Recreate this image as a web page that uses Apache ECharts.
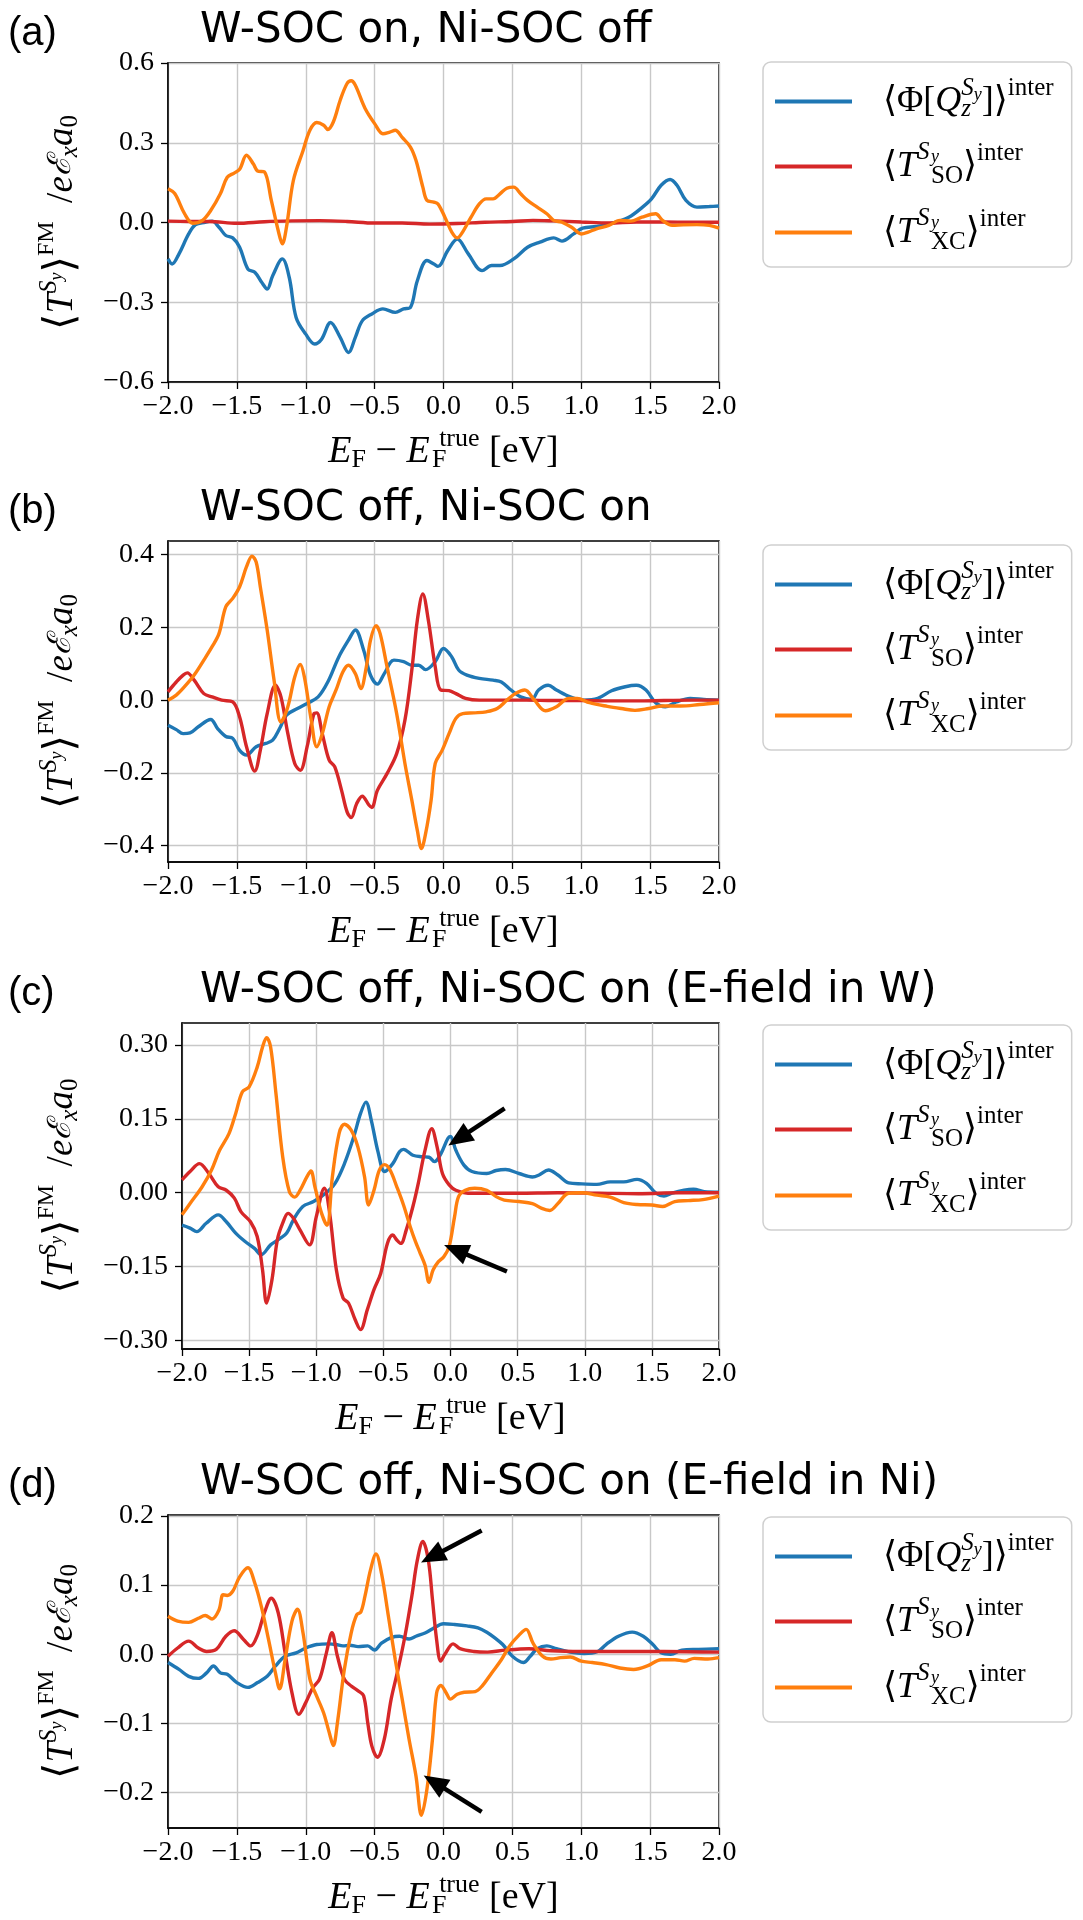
<!DOCTYPE html>
<html><head><meta charset="utf-8">
<script src="https://cdn.jsdelivr.net/npm/echarts@6/dist/echarts.min.js"></script>
<style>html,body{margin:0;padding:0;background:#fff}#c{width:1083px;height:1920px}</style>
</head><body><div id="c"></div>
<script>
// ---------------- DATA ----------------
const xTicks = [-2, -1.5, -1, -0.5, 0, 0.5, 1, 1.5, 2];
const yTicksA = [-0.6, -0.3, 0, 0.3, 0.6];
const yTicksB = [-0.4, -0.2, 0, 0.2, 0.4];
const yTicksC = [-0.30, -0.15, 0, 0.15, 0.30];
const yTicksD = [-0.2, -0.1, 0, 0.1, 0.2];
const yRangeA = [-0.6, 0.6];
const yRangeB = [-0.445, 0.4377];
const yRangeC = [-0.3174, 0.3446];
const yRangeD = [-0.2514, 0.2014];
const titles = ['W-SOC on, Ni-SOC off', 'W-SOC off, Ni-SOC on', 'W-SOC off, Ni-SOC on (E-field in W)', 'W-SOC off, Ni-SOC on (E-field in Ni)'];
const panelLabels = ['(a)', '(b)', '(c)', '(d)'];

// panel (a)
const aPhi = [[-2.0,-0.137],[-1.97,-0.156],[-1.92,-0.118],[-1.85,-0.043],[-1.8,-0.008],[-1.73,0.001],[-1.68,0.005],[-1.63,-0.018],[-1.58,-0.049],[-1.53,-0.058],[-1.48,-0.093],[-1.42,-0.175],[-1.37,-0.187],[-1.32,-0.225],[-1.28,-0.25],[-1.24,-0.2],[-1.17,-0.137],[-1.12,-0.206],[-1.07,-0.357],[-1.0,-0.42],[-0.935,-0.457],[-0.885,-0.439],[-0.82,-0.376],[-0.75,-0.432],[-0.69,-0.489],[-0.64,-0.432],[-0.59,-0.37],[-0.52,-0.344],[-0.44,-0.325],[-0.35,-0.338],[-0.29,-0.325],[-0.24,-0.319],[-0.19,-0.219],[-0.12,-0.143],[-0.07,-0.156],[-0.04,-0.165],[0.03,-0.106],[0.1,-0.062],[0.18,-0.118],[0.28,-0.181],[0.35,-0.162],[0.41,-0.162],[0.51,-0.137],[0.61,-0.093],[0.7,-0.074],[0.8,-0.058],[0.86,-0.07],[0.945,-0.043],[1.01,-0.021],[1.11,-0.015],[1.21,-0.005],[1.345,0.02],[1.445,0.058],[1.51,0.089],[1.58,0.14],[1.645,0.162],[1.695,0.14],[1.76,0.083],[1.84,0.058],[1.93,0.06],[2.0,0.062]];
const aSO = [[-2.0,0.005],[-1.85,0.004],[-1.7,0.004],[-1.5,-0.003],[-1.3,0.003],[-1.1,0.006],[-0.9,0.007],[-0.7,0.004],[-0.5,-0.002],[-0.3,-0.002],[-0.1,-0.006],[0.1,-0.004],[0.3,0.001],[0.5,0.004],[0.65,0.008],[0.8,0.006],[1.0,0.002],[1.2,-0.002],[1.4,0.002],[1.6,0.002],[1.8,0.001],[2.0,0.001]];
const aXC = [[-2.0,0.127],[-1.95,0.108],[-1.88,0.033],[-1.82,-0.003],[-1.75,0.008],[-1.69,0.045],[-1.62,0.108],[-1.57,0.17],[-1.52,0.186],[-1.48,0.2],[-1.43,0.253],[-1.38,0.22],[-1.35,0.194],[-1.3,0.19],[-1.25,0.083],[-1.2,-0.03],[-1.17,-0.08],[-1.14,-0.018],[-1.09,0.158],[-1.02,0.27],[-0.97,0.347],[-0.92,0.376],[-0.87,0.366],[-0.84,0.35],[-0.8,0.378],[-0.75,0.46],[-0.7,0.523],[-0.67,0.533],[-0.64,0.516],[-0.57,0.43],[-0.5,0.372],[-0.44,0.334],[-0.39,0.34],[-0.35,0.347],[-0.3,0.32],[-0.24,0.284],[-0.2,0.234],[-0.15,0.133],[-0.12,0.083],[-0.07,0.077],[-0.04,0.07],[0.01,0.02],[0.06,-0.036],[0.1,-0.058],[0.13,-0.043],[0.2,0.02],[0.26,0.07],[0.31,0.089],[0.36,0.089],[0.41,0.108],[0.46,0.129],[0.51,0.133],[0.56,0.108],[0.61,0.083],[0.68,0.058],[0.75,0.033],[0.8,0.008],[0.86,0.001],[0.93,-0.018],[1.0,-0.043],[1.05,-0.036],[1.11,-0.024],[1.2,-0.011],[1.28,0.008],[1.36,0.005],[1.44,0.02],[1.54,0.033],[1.59,0.008],[1.66,-0.011],[1.74,-0.009],[1.84,-0.008],[1.93,-0.011],[2.0,-0.021]];

// panel (b)
const bPhi = [[-2.0,-0.069],[-1.94,-0.081],[-1.89,-0.092],[-1.84,-0.09],[-1.78,-0.073],[-1.69,-0.053],[-1.64,-0.078],[-1.58,-0.1],[-1.53,-0.105],[-1.48,-0.138],[-1.43,-0.151],[-1.36,-0.128],[-1.29,-0.119],[-1.24,-0.11],[-1.19,-0.078],[-1.14,-0.041],[-1.06,-0.023],[-0.99,-0.009],[-0.91,0.009],[-0.84,0.05],[-0.76,0.119],[-0.69,0.165],[-0.64,0.193],[-0.58,0.138],[-0.53,0.069],[-0.48,0.044],[-0.43,0.073],[-0.36,0.11],[-0.29,0.106],[-0.23,0.096],[-0.18,0.096],[-0.13,0.084],[-0.06,0.106],[0.0,0.142],[0.06,0.119],[0.11,0.083],[0.17,0.069],[0.26,0.06],[0.36,0.055],[0.42,0.05],[0.49,0.028],[0.56,0.009],[0.64,0.002],[0.69,0.028],[0.76,0.041],[0.82,0.028],[0.92,0.009],[1.02,0.0],[1.12,0.005],[1.22,0.026],[1.32,0.037],[1.4,0.041],[1.47,0.028],[1.54,-0.007],[1.61,-0.018],[1.69,-0.005],[1.79,0.005],[1.89,0.002],[2.0,0.0]];
const bSO = [[-2.0,0.023],[-1.94,0.05],[-1.89,0.069],[-1.86,0.075],[-1.81,0.055],[-1.74,0.018],[-1.68,0.009],[-1.61,0.0],[-1.53,-0.005],[-1.48,-0.046],[-1.43,-0.128],[-1.37,-0.195],[-1.33,-0.138],[-1.28,-0.037],[-1.22,0.041],[-1.18,0.009],[-1.13,-0.092],[-1.08,-0.174],[-1.04,-0.193],[-0.99,-0.128],[-0.94,-0.037],[-0.92,-0.035],[-0.88,-0.092],[-0.83,-0.165],[-0.79,-0.183],[-0.74,-0.248],[-0.7,-0.307],[-0.67,-0.323],[-0.63,-0.284],[-0.59,-0.264],[-0.54,-0.289],[-0.52,-0.295],[-0.48,-0.248],[-0.41,-0.202],[-0.34,-0.147],[-0.28,-0.055],[-0.23,0.083],[-0.19,0.22],[-0.15,0.292],[-0.11,0.22],[-0.06,0.092],[-0.02,0.028],[0.04,0.026],[0.09,0.018],[0.16,0.005],[0.26,0.0],[0.4,0.0],[0.6,0.0],[0.8,-0.001],[1.0,-0.001],[1.2,-0.002],[1.4,-0.002],[1.6,-0.001],[1.8,0.0],[2.0,0.0]];
const bXC = [[-2.0,0.0],[-1.94,0.014],[-1.88,0.037],[-1.81,0.069],[-1.74,0.11],[-1.68,0.147],[-1.63,0.183],[-1.58,0.257],[-1.53,0.28],[-1.48,0.312],[-1.43,0.367],[-1.39,0.396],[-1.36,0.38],[-1.33,0.312],[-1.28,0.193],[-1.23,0.055],[-1.18,-0.06],[-1.13,-0.018],[-1.08,0.064],[-1.04,0.098],[-1.01,0.064],[-0.96,-0.055],[-0.92,-0.128],[-0.88,-0.092],[-0.83,-0.018],[-0.78,0.028],[-0.73,0.078],[-0.69,0.096],[-0.64,0.073],[-0.6,0.032],[-0.56,0.092],[-0.53,0.165],[-0.49,0.205],[-0.46,0.183],[-0.41,0.092],[-0.34,-0.037],[-0.28,-0.174],[-0.23,-0.275],[-0.19,-0.358],[-0.16,-0.408],[-0.13,-0.367],[-0.09,-0.275],[-0.06,-0.174],[-0.01,-0.138],[0.04,-0.092],[0.09,-0.05],[0.14,-0.037],[0.22,-0.035],[0.31,-0.032],[0.39,-0.023],[0.46,0.0],[0.52,0.018],[0.59,0.028],[0.66,0.0],[0.74,-0.029],[0.82,-0.018],[0.91,0.005],[0.97,0.005],[1.06,-0.007],[1.19,-0.017],[1.29,-0.023],[1.39,-0.028],[1.49,-0.023],[1.59,-0.016],[1.72,-0.016],[1.86,-0.012],[2.0,-0.007]];

// panel (c)
const cPhi = [[-2.0,-0.066],[-1.94,-0.072],[-1.89,-0.079],[-1.82,-0.062],[-1.73,-0.045],[-1.67,-0.059],[-1.6,-0.082],[-1.53,-0.099],[-1.46,-0.113],[-1.41,-0.126],[-1.34,-0.106],[-1.27,-0.093],[-1.22,-0.082],[-1.17,-0.055],[-1.1,-0.028],[-1.02,-0.018],[-0.93,-0.001],[-0.86,0.019],[-0.79,0.059],[-0.72,0.114],[-0.67,0.161],[-0.63,0.184],[-0.59,0.147],[-0.54,0.083],[-0.49,0.043],[-0.43,0.059],[-0.38,0.083],[-0.35,0.088],[-0.28,0.076],[-0.21,0.073],[-0.16,0.072],[-0.12,0.063],[-0.07,0.08],[-0.02,0.11],[0.0,0.114],[0.04,0.086],[0.1,0.056],[0.16,0.043],[0.27,0.039],[0.34,0.045],[0.41,0.047],[0.51,0.039],[0.61,0.032],[0.66,0.036],[0.73,0.046],[0.8,0.036],[0.88,0.02],[0.98,0.018],[1.09,0.017],[1.19,0.022],[1.29,0.022],[1.39,0.027],[1.46,0.019],[1.53,-0.001],[1.59,-0.007],[1.65,-0.001],[1.74,0.005],[1.81,0.007],[1.89,0.002],[2.0,0.001]];
const cSO = [[-2.0,0.026],[-1.94,0.043],[-1.87,0.059],[-1.8,0.039],[-1.73,0.012],[-1.67,0.005],[-1.61,-0.011],[-1.56,-0.039],[-1.49,-0.059],[-1.44,-0.089],[-1.4,-0.157],[-1.37,-0.224],[-1.33,-0.177],[-1.29,-0.096],[-1.25,-0.062],[-1.21,-0.042],[-1.17,-0.052],[-1.12,-0.076],[-1.05,-0.106],[-1.0,-0.049],[-0.94,0.009],[-0.9,-0.042],[-0.85,-0.157],[-0.8,-0.214],[-0.76,-0.224],[-0.71,-0.258],[-0.67,-0.278],[-0.62,-0.238],[-0.57,-0.197],[-0.52,-0.164],[-0.47,-0.103],[-0.43,-0.086],[-0.4,-0.096],[-0.37,-0.103],[-0.33,-0.076],[-0.28,-0.028],[-0.24,0.019],[-0.19,0.086],[-0.14,0.13],[-0.1,0.093],[-0.06,0.039],[-0.01,0.016],[0.04,0.005],[0.13,-0.001],[0.27,-0.001],[0.5,-0.001],[0.8,0.0],[1.1,-0.001],[1.4,-0.002],[1.7,0.0],[2.0,0.0]];
const cXC = [[-2.0,-0.045],[-1.94,-0.022],[-1.85,0.012],[-1.78,0.046],[-1.72,0.086],[-1.65,0.12],[-1.6,0.161],[-1.55,0.205],[-1.5,0.215],[-1.44,0.255],[-1.4,0.296],[-1.37,0.315],[-1.34,0.296],[-1.3,0.201],[-1.25,0.073],[-1.2,0.002],[-1.16,-0.009],[-1.12,0.005],[-1.07,0.032],[-1.04,0.044],[-1.01,0.012],[-0.96,-0.042],[-0.92,-0.066],[-0.88,0.032],[-0.83,0.12],[-0.79,0.139],[-0.74,0.127],[-0.69,0.093],[-0.64,0.032],[-0.61,-0.025],[-0.57,0.005],[-0.53,0.046],[-0.49,0.057],[-0.45,0.046],[-0.4,0.012],[-0.35,-0.025],[-0.3,-0.069],[-0.26,-0.1],[-0.23,-0.12],[-0.19,-0.147],[-0.16,-0.182],[-0.13,-0.157],[-0.09,-0.14],[-0.05,-0.13],[-0.01,-0.109],[0.03,-0.049],[0.06,-0.008],[0.11,0.005],[0.18,0.009],[0.27,0.005],[0.34,-0.008],[0.4,-0.015],[0.51,-0.018],[0.61,-0.022],[0.68,-0.032],[0.74,-0.036],[0.8,-0.022],[0.88,-0.001],[0.98,0.0],[1.09,-0.005],[1.19,-0.009],[1.29,-0.02],[1.39,-0.024],[1.5,-0.025],[1.58,-0.028],[1.67,-0.018],[1.77,-0.016],[1.88,-0.014],[2.0,-0.007]];

// panel (d)
const dPhi = [[-2.0,-0.012],[-1.92,-0.022],[-1.85,-0.032],[-1.78,-0.035],[-1.72,-0.027],[-1.67,-0.017],[-1.62,-0.027],[-1.57,-0.029],[-1.5,-0.041],[-1.42,-0.048],[-1.35,-0.041],[-1.28,-0.032],[-1.22,-0.017],[-1.15,-0.003],[-1.07,0.002],[-1.0,0.009],[-0.92,0.014],[-0.83,0.015],[-0.78,0.014],[-0.73,0.012],[-0.68,0.013],[-0.62,0.011],[-0.55,0.012],[-0.5,0.006],[-0.45,0.016],[-0.38,0.024],[-0.32,0.026],[-0.25,0.022],[-0.2,0.026],[-0.13,0.031],[-0.07,0.038],[0.0,0.044],[0.08,0.043],[0.17,0.041],[0.25,0.038],[0.32,0.031],[0.37,0.024],[0.43,0.014],[0.5,-0.003],[0.58,-0.012],[0.63,-0.003],[0.68,0.008],[0.75,0.012],[0.82,0.008],[0.92,0.003],[1.02,0.001],[1.12,0.004],[1.18,0.014],[1.27,0.026],[1.37,0.032],[1.45,0.026],[1.52,0.014],[1.58,0.002],[1.65,0.0],[1.73,0.006],[1.85,0.007],[2.0,0.008]];
const dSO = [[-2.0,-0.003],[-1.93,0.009],[-1.85,0.019],[-1.78,0.009],[-1.72,0.004],[-1.65,0.007],[-1.58,0.026],[-1.52,0.034],[-1.45,0.021],[-1.4,0.012],[-1.35,0.028],[-1.3,0.06],[-1.25,0.081],[-1.2,0.06],[-1.15,0.002],[-1.1,-0.056],[-1.05,-0.087],[-1.0,-0.07],[-0.95,-0.049],[-0.9,-0.036],[-0.85,0.002],[-0.81,0.031],[-0.77,-0.003],[-0.72,-0.036],[-0.67,-0.046],[-0.62,-0.053],[-0.58,-0.06],[-0.55,-0.099],[-0.52,-0.133],[-0.48,-0.149],[-0.43,-0.123],[-0.38,-0.065],[-0.33,-0.022],[-0.28,0.026],[-0.23,0.084],[-0.19,0.136],[-0.15,0.163],[-0.11,0.136],[-0.08,0.079],[-0.05,0.021],[-0.02,-0.01],[0.01,0.0],[0.07,0.015],[0.12,0.008],[0.22,0.004],[0.32,0.003],[0.45,0.006],[0.62,0.008],[0.78,0.005],[1.0,0.004],[1.3,0.004],[1.6,0.004],[2.0,0.003]];
const dXC = [[-2.0,0.055],[-1.93,0.048],[-1.85,0.046],[-1.78,0.052],[-1.73,0.056],[-1.68,0.051],[-1.63,0.064],[-1.6,0.086],[-1.57,0.085],[-1.53,0.091],[-1.48,0.112],[-1.42,0.125],[-1.37,0.103],[-1.32,0.067],[-1.27,0.021],[-1.22,-0.027],[-1.19,-0.05],[-1.15,-0.008],[-1.1,0.048],[-1.06,0.065],[-1.02,0.031],[-0.97,-0.036],[-0.92,-0.061],[-0.87,-0.085],[-0.83,-0.113],[-0.8,-0.132],[-0.77,-0.099],[-0.72,-0.022],[-0.67,0.031],[-0.63,0.057],[-0.6,0.061],[-0.57,0.084],[-0.53,0.122],[-0.49,0.145],[-0.45,0.117],[-0.4,0.055],[-0.35,-0.008],[-0.3,-0.065],[-0.25,-0.123],[-0.2,-0.176],[-0.16,-0.233],[-0.12,-0.195],[-0.08,-0.123],[-0.05,-0.056],[-0.02,-0.045],[0.02,-0.056],[0.05,-0.065],[0.1,-0.058],[0.15,-0.055],[0.23,-0.054],[0.28,-0.046],[0.35,-0.027],[0.42,-0.008],[0.48,0.012],[0.55,0.028],[0.6,0.036],[0.65,0.016],[0.72,-0.003],[0.78,-0.007],[0.85,-0.005],[0.92,-0.004],[1.0,-0.01],[1.08,-0.012],[1.18,-0.015],[1.28,-0.02],[1.38,-0.022],[1.48,-0.017],[1.58,-0.008],[1.68,-0.008],[1.75,-0.01],[1.82,-0.006],[1.92,-0.007],[2.0,-0.005]];

// annotation arrows [tail, head] in data coordinates
const arrowsC = [[[0.403, 0.171], [0.062, 0.110]], [[0.42, -0.160], [0.038, -0.116]]];
const arrowsD = [[[0.277, 0.179], [-0.083, 0.141]], [[0.277, -0.228], [-0.067, -0.185]]];

// ---------------- LAYOUT / STYLE ----------------
const grids = [
  {left: 168, top: 63, width: 551, height: 319},
  {left: 168, top: 541, width: 551, height: 321},
  {left: 182, top: 1023, width: 537, height: 326},
  {left: 168, top: 1515, width: 551, height: 314}
];
const legendTops = [62, 545, 1025, 1517];
const panels = [
  {phi: aPhi, so: aSO, xc: aXC, ticks: yTicksA, range: yRangeA, dec: 1, arrows: null},
  {phi: bPhi, so: bSO, xc: bXC, ticks: yTicksB, range: yRangeB, dec: 1, arrows: null},
  {phi: cPhi, so: cSO, xc: cXC, ticks: yTicksC, range: yRangeC, dec: 2, arrows: arrowsC},
  {phi: dPhi, so: dSO, xc: dXC, ticks: yTicksD, range: yRangeD, dec: 1, arrows: arrowsD}
];
const COLORS = {phi: '#1f77b4', so: '#d62728', xc: '#ff7f0e'};
const SERIF = 'Liberation Serif';

function fmt(v, d) {
  const s = Math.abs(v).toFixed(d);
  return (v < -1e-9 ? '\u2212' : '') + s;
}

const mathRich = {
  it: {fontFamily: SERIF, fontStyle: 'italic', fontSize: 37, color: '#000'},
  rm: {fontFamily: SERIF, fontSize: 37, color: '#000'},
  br: {fontFamily: 'DejaVu Serif', fontSize: 42, color: '#000'},
  sup: {fontFamily: SERIF, fontStyle: 'italic', fontSize: 25, padding: [0, 0, 26, 0], color: '#000'},
  ssub: {fontFamily: SERIF, fontStyle: 'italic', fontSize: 18, padding: [0, 0, 10, 0], color: '#000'},
  supr: {fontFamily: SERIF, fontSize: 24, padding: [0, 0, 30, 0], color: '#000'},
  scr: {fontFamily: 'DejaVu Serif', fontStyle: 'italic', fontSize: 32, color: '#000'},
  sub: {fontFamily: SERIF, fontStyle: 'italic', fontSize: 25, padding: [16, 0, 0, 0], color: '#000'},
  subr: {fontFamily: SERIF, fontSize: 25, padding: [16, 0, 0, 0], color: '#000'}
};
const yName = '{br|\u27E8}{it|T}{sup|S}{ssub|y}{br|\u27E9}{supr|FM}{rm|  /}{it|e}{scr|\u2130}{sub|x}{it|a}{subr|0}';

const xRich = {
  it: {fontFamily: SERIF, fontStyle: 'italic', fontSize: 38, color: '#000'},
  rm: {fontFamily: SERIF, fontSize: 38, color: '#000'},
  subr: {fontFamily: SERIF, fontSize: 26, padding: [16, 0, 0, 0], color: '#000'},
  subz: {fontFamily: SERIF, fontSize: 26, padding: [16, 0, 0, 0], width: 0, color: '#000'},
  supr: {fontFamily: SERIF, fontSize: 26, padding: [0, 0, 26, 0], color: '#000'}
};
const xName = '{it|E}{subr|F}{rm| \u2212 }{it|E}{rm| }{subz|F}{supr|true}{rm| [eV]}';

const LH = 44;
const legRich = {
  g: {width: 26, fontSize: 30, lineHeight: LH},
  rm: {fontFamily: SERIF, fontSize: 36, color: '#000', lineHeight: LH},
  it: {fontFamily: SERIF, fontStyle: 'italic', fontSize: 36, color: '#000', lineHeight: LH},
  br: {fontFamily: 'DejaVu Serif', fontSize: 36, color: '#000', lineHeight: LH},
  sup: {fontFamily: SERIF, fontStyle: 'italic', fontSize: 25, padding: [0, 0, 26, 0], color: '#000', lineHeight: LH},
  supw: {fontFamily: SERIF, fontStyle: 'italic', fontSize: 25, padding: [0, 0, 28, 0], width: 14, color: '#000', lineHeight: LH},
  ssub: {fontFamily: SERIF, fontStyle: 'italic', fontSize: 18, padding: [0, 0, 12, 0], color: '#000', lineHeight: LH},
  ssubz: {fontFamily: SERIF, fontStyle: 'italic', fontSize: 18, padding: [0, 0, 18, 0], width: 0, color: '#000', lineHeight: LH},
  supr: {fontFamily: SERIF, fontSize: 25, padding: [0, 0, 26, 0], color: '#000', lineHeight: LH},
  subz: {fontFamily: SERIF, fontStyle: 'italic', fontSize: 25, padding: [16, 0, 0, 0], width: 0, color: '#000', lineHeight: LH},
  subr: {fontFamily: SERIF, fontSize: 25, padding: [20, 0, 0, 0], color: '#000', lineHeight: LH}
};
const legendText = {
  phi: '{g| }{br|\u27E8}{rm|\u03A6[}{it|Q}{subz|z}{sup|S}{ssub|y}{rm|]}{br|\u27E9}{supr|inter}',
  so: '{g| }{br|\u27E8}{it|T}{supw|S}{ssubz|y}{subr|SO}{br|\u27E9}{supr|inter}',
  xc: '{g| }{br|\u27E8}{it|T}{supw|S}{ssubz|y}{subr|XC}{br|\u27E9}{supr|inter}'
};

const option = {
  animation: false,
  backgroundColor: '#fff',
  title: [],
  grid: [],
  xAxis: [],
  yAxis: [],
  legend: [],
  series: []
};

panels.forEach((p, i) => {
  const g = grids[i];
  option.grid.push(Object.assign({show: true, borderColor: '#000', borderWidth: 1.5, containLabel: false}, g));
  option.title.push({
    text: titles[i], left: 195, top: g.top - 58,
    textStyle: {fontFamily: 'DejaVu Sans', fontSize: 42, fontWeight: 'normal', color: '#000'}
  });
  option.title.push({
    text: panelLabels[i], left: 3, top: g.top - 54,
    textStyle: {fontFamily: 'Liberation Sans', fontSize: 40, fontWeight: 'normal', color: '#000'}
  });
  option.xAxis.push({
    type: 'value', gridIndex: i, min: -2, max: 2, interval: 0.5,
    axisLine: {show: true, onZero: false, lineStyle: {color: '#000', width: 1.5}},
    axisTick: {show: true, inside: false, length: 7, lineStyle: {color: '#000', width: 1.3}},
    axisLabel: {margin: 11, fontFamily: SERIF, fontSize: 28, color: '#000', formatter: v => fmt(v, 1)},
    splitLine: {show: true, lineStyle: {color: '#c8c8c8', width: 1.4}},
    name: xName, nameLocation: 'middle', nameGap: 44,
    nameTextStyle: {fontFamily: SERIF, fontSize: 38, color: '#000', rich: xRich}
  });
  option.yAxis.push({
    type: 'value', gridIndex: i, min: p.range[0], max: p.range[1],
    axisLine: {show: true, onZero: false, lineStyle: {color: '#000', width: 1.5}},
    axisTick: {show: true, inside: false, length: 7, customValues: p.ticks, lineStyle: {color: '#000', width: 1.3}},
    axisLabel: {margin: 14, customValues: p.ticks, fontFamily: SERIF, fontSize: 28, color: '#000', formatter: v => fmt(v, p.dec)},
    splitLine: {show: true, lineStyle: {color: '#c8c8c8', width: 1.4}},
    name: yName, nameLocation: 'middle', nameRotate: 90, nameGap: i === 2 ? 93 : 79,
    nameTextStyle: {fontFamily: SERIF, fontSize: 37, color: '#000', rich: mathRich}
  });
  option.legend.push({
    left: 763, top: legendTops[i], orient: 'vertical', selectedMode: false,
    data: ['phi', 'so', 'xc'], icon: 'rect', itemWidth: 77, itemHeight: 4, itemGap: 13,
    backgroundColor: '#fff', borderColor: '#cfcfcf', borderWidth: 1.5, borderRadius: 8,
    padding: [14, 18, 8, 12],
    textStyle: {fontFamily: SERIF, fontSize: 36, lineHeight: LH, color: '#000', rich: legRich},
    formatter: name => legendText[name]
  });
  ['phi', 'so', 'xc'].forEach(k => {
    const s = {
      type: 'line', name: k, xAxisIndex: i, yAxisIndex: i, data: p[k],
      showSymbol: false, symbol: 'none', smooth: 0.35, clip: true,
      lineStyle: {color: COLORS[k], width: 3.4}, itemStyle: {color: COLORS[k]}, z: 3
    };
    if (k === 'xc' && p.arrows) {
      s.markLine = {
        silent: true, animation: false, symbol: ['none', 'triangle'], symbolSize: [21, 25],
        label: {show: false}, lineStyle: {color: '#000', width: 4.5, type: 'solid'},
        itemStyle: {color: '#000'},
        data: p.arrows.map(a => [{coord: a[0]}, {coord: a[1]}])
      };
    }
    option.series.push(s);
  });
});

const chart = echarts.init(document.getElementById('c'), null, {renderer: 'canvas'});
chart.setOption(option);
</script>
</body></html>
